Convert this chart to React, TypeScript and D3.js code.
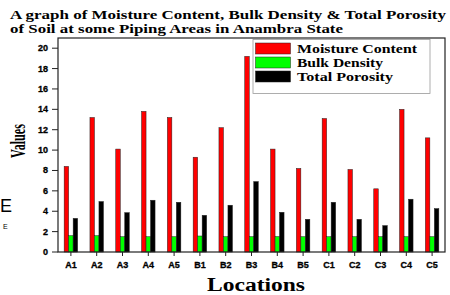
import React from "react";
import * as d3 from "d3";

const locations = ["A1","A2","A3","A4","A5","B1","B2","B3","B4","B5","C1","C2","C3","C4","C5"];
const moistureContent = [8.4,13.2,10.1,13.8,13.2,9.3,12.2,19.2,10.1,8.2,13.1,8.1,6.2,14.0,11.2];
const bulkDensity = [1.6,1.6,1.5,1.5,1.5,1.57,1.5,1.5,1.52,1.5,1.5,1.5,1.5,1.5,1.5];
const totalPorosity = [3.3,4.95,3.86,5.08,4.88,3.6,4.59,6.91,3.9,3.21,4.88,3.21,2.59,5.18,4.26];
const yTicks = [0,2,4,6,8,10,12,14,16,18,20];
const seriesNames = ["Moisture Content","Bulk Density","Total Porosity"];
const seriesColors = ["#ff0000","#00ff00","#000000"];
const legendWidths = [120, 86, 96];

export default function App() {
  const W = 450, H = 295;
  const left = 58, right = 445, top = 38, bottom = 252;
  const x = d3.scaleBand<string>().domain(locations).range([left, right]).padding(0);
  const y = d3.scaleLinear().domain([0, 21]).range([bottom, top]);
  const series = [moistureContent, bulkDensity, totalPorosity];
  const barW = 4.5;
  const sub = d3.scaleBand<number>().domain([0,1,2]).range([-barW*1.5, barW*1.5]).padding(0);
  const serif = "'Liberation Serif', 'Times New Roman', serif";
  const sans = "'Liberation Sans', Arial, sans-serif";
  return (
    <svg width={W} height={H} style={{position:"absolute", left:0, top:0, background:"#fff"}}>
      <text x={10} y={19} fontFamily={serif} fontWeight="bold" fontSize={13} textLength={436} lengthAdjust="spacingAndGlyphs">A graph of Moisture Content, Bulk Density &amp; Total Porosity</text>
      <text x={10} y={33} fontFamily={serif} fontWeight="bold" fontSize={13} textLength={333} lengthAdjust="spacingAndGlyphs">of Soil at some Piping Areas in Anambra State</text>
      <text x={0} y={212} fontFamily={sans} fontSize={18}>E</text>
      <text x={3} y={229} fontFamily={sans} fontSize={7} fill="#000">E</text>
      {/* bars */}
      {locations.map((loc, i) => (
        <g key={loc}>
          {series.map((s, k) => (
            <rect key={k}
              x={(x(loc) as number) + x.bandwidth()/2 + (sub(k) as number)}
              y={y(s[i])}
              width={sub.bandwidth()}
              height={bottom - y(s[i])}
              fill={seriesColors[k]}
              stroke="#222" strokeWidth={0.5} />
          ))}
        </g>
      ))}
      {/* frame */}
      <rect x={left} y={top} width={right-left} height={bottom-top} fill="none" stroke="#222" strokeWidth={1.2} />
      {/* y axis */}
      {yTicks.map(t => (
        <g key={t}>
          <line x1={left-6} x2={left} y1={y(t)} y2={y(t)} stroke="#222" strokeWidth={1} />
          <text x={48} y={y(t)+3} textAnchor="end" fontFamily={sans} fontWeight="bold" fontSize={9} stroke="#000" strokeWidth={0.3}>{t}</text>
        </g>
      ))}
      {/* x axis */}
      {locations.map(loc => {
        const cx = (x(loc) as number) + x.bandwidth()/2;
        return (
          <g key={loc}>
            <line x1={cx} x2={cx} y1={bottom} y2={bottom+4} stroke="#222" strokeWidth={1} />
            <text x={cx} y={268} textAnchor="middle" fontFamily={sans} fontWeight="bold" fontSize={9} stroke="#000" strokeWidth={0.3}>{loc}</text>
          </g>
        );
      })}
      <text transform="translate(25,141) rotate(-90)" textAnchor="middle" fontFamily={serif} fontWeight="bold" fontSize={20} textLength={34} lengthAdjust="spacingAndGlyphs">Values</text>
      <text x={256} y={291} textAnchor="middle" fontFamily={serif} fontWeight="bold" fontSize={18} textLength={98} lengthAdjust="spacingAndGlyphs">Locations</text>
      {/* legend */}
      <rect x={253} y={39.5} width={177} height={54} fill="#fff" stroke="#999" strokeWidth={0.8} />
      {seriesNames.map((n, k) => (
        <g key={n}>
          <rect x={255.5} y={43 + k*14} width={35} height={11} fill={seriesColors[k]} stroke="#222" strokeWidth={0.5} />
          <text x={297} y={53 + k*14} fontFamily={serif} fontWeight="bold" fontSize={12} textLength={legendWidths[k]} lengthAdjust="spacingAndGlyphs">{n}</text>
        </g>
      ))}
    </svg>
  );
}
